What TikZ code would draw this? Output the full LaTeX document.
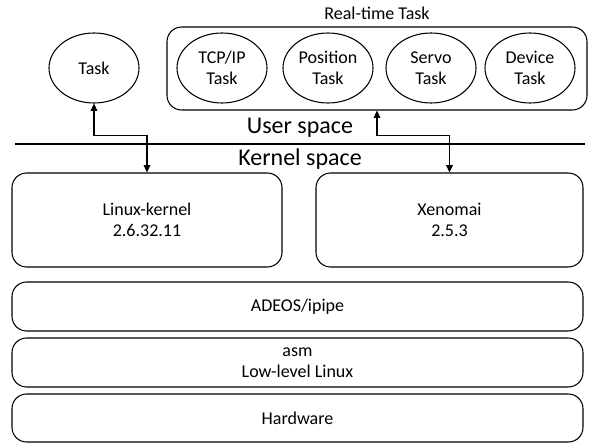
\documentclass[tikz,border=0pt]{standalone}
\usepackage{fontspec}
\setmainfont{Carlito}
\usetikzlibrary{arrows.meta}
\usetikzlibrary{positioning}
\usetikzlibrary{shapes.geometric}

\begin{document}
\begin{tikzpicture}[x=0.75pt,y=0.75pt,yscale=-1,xscale=1,
  task/.style={draw, line width=0.8pt, ellipse, minimum width=67.5pt, minimum height=52.5pt, inner sep=0pt, align=center, font=\fontsize{13.5}{16}\selectfont},
  layer/.style={draw, line width=0.8pt, rounded corners=11pt, inner sep=0pt, align=center, font=\fontsize{13.5}{16}\selectfont},
  biarrow/.style={line width=0.8pt, {Triangle[length=5.5pt,width=5pt]}-{Triangle[length=5.5pt,width=5pt]}}]
\useasboundingbox (0,0) rectangle (590,445);

%Real-time group
\node [layer, minimum width=315pt, minimum height=62.25pt] (rtbox) at (377,68.5) {};
\node [font=\fontsize{13.5}{16}\selectfont] (rtlabel) at (377,13) {Real-time Task};

%Tasks
\node [task] (task) at (94,68) {Task};
\node [task] (tcpip) at (222,68) {TCP/IP\\Task};
\node [task] (position) at (328,68) {Position\\Task};
\node [task] (servo) at (431,68) {Servo\\Task};
\node [task] (device) at (530,68) {Device\\Task};

%User / kernel separator
\coordinate (sepl) at (15,144);
\coordinate (sepr) at (585,144);
\draw [line width=0.8pt] (sepl) -- (sepr);
\node [font=\fontsize{18}{21}\selectfont] (user) at (300,128) {User space};
\node [font=\fontsize{18}{21}\selectfont] (kernel) at (300,159) {Kernel space};

%Kernel layers
\node [layer, minimum width=202.5pt, minimum height=70.5pt] (linux) at (147,220) {Linux-kernel\\2.6.32.11};
\node [layer, minimum width=200.25pt, minimum height=70.5pt] (xenomai) at (449.5,220) {Xenomai\\2.5.3};
\node [layer, minimum width=428.25pt, minimum height=36.75pt] (adeos) at (297.5,306.5) {ADEOS/ipipe};
\node [layer, minimum width=428.25pt, minimum height=36.75pt] (asm) at (297.5,362.5) {asm\\Low-level Linux};
\node [layer, minimum width=428.25pt, minimum height=36pt] (hardware) at (297.5,418) {Hardware};

%Connectors
\draw [biarrow] (task.south) -- ++(0,32) -| (linux.north);
\draw [biarrow] (rtbox.south) -- ++(0,25) -| (xenomai.north);

\end{tikzpicture}
\end{document}
